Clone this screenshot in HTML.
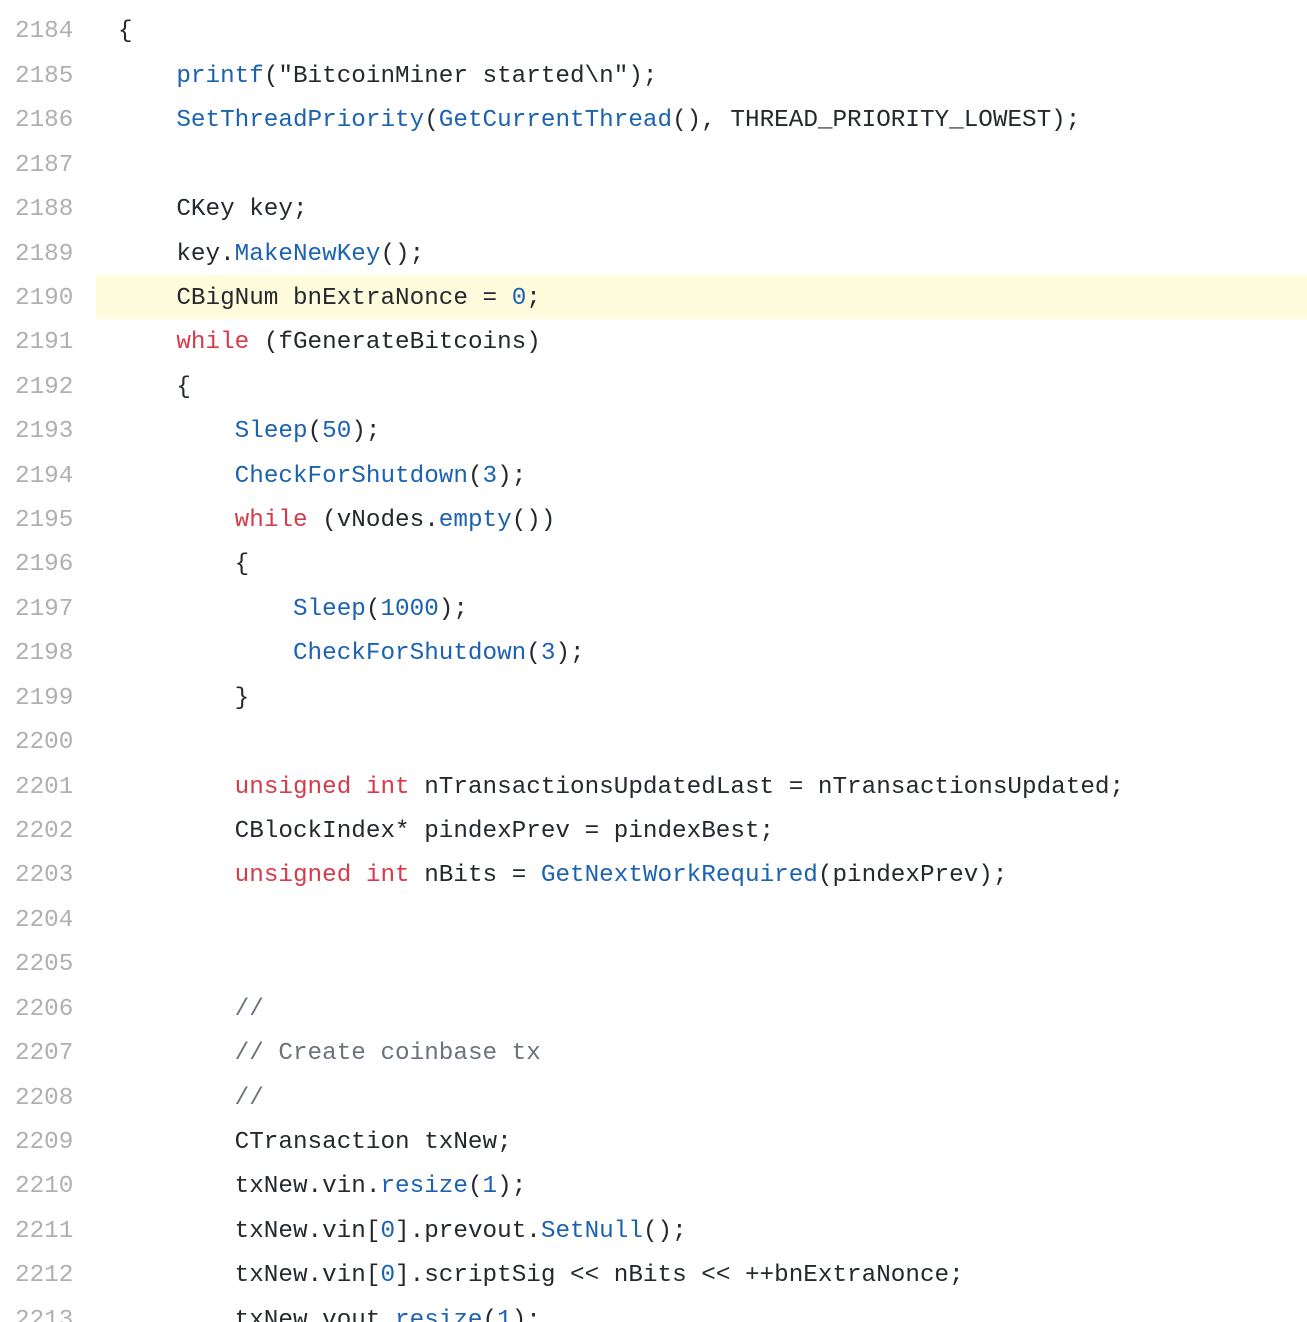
<!DOCTYPE html>
<html><head><meta charset="utf-8"><style>
html,body{margin:0;padding:0;background:#fff;width:1307px;height:1322px;overflow:hidden;position:relative}
.w{position:absolute;left:0;top:-34px;width:1307px}
.l{position:relative;height:44.43px;line-height:44.43px;font-family:"Liberation Mono",monospace;font-size:24.3px;white-space:pre;color:#24292e}
.n{position:absolute;left:15px;color:#b0b0b0}
.c{position:absolute;left:118px}
.h{position:absolute;left:96px;right:0;top:-2px;bottom:2px;background:#fffbdd}
.f{color:#1b62b0}.k{color:#d73a49}.g{color:#6a737d}
</style></head><body><div class="w">
<div class="l"><span class="n">2183</span><span class="c">void BitcoinMiner()</span></div>
<div class="l"><span class="n">2184</span><span class="c">{</span></div>
<div class="l"><span class="n">2185</span><span class="c">    <span class="f">printf</span>("BitcoinMiner started\n");</span></div>
<div class="l"><span class="n">2186</span><span class="c">    <span class="f">SetThreadPriority</span>(<span class="f">GetCurrentThread</span>(), THREAD_PRIORITY_LOWEST);</span></div>
<div class="l"><span class="n">2187</span></div>
<div class="l"><span class="n">2188</span><span class="c">    CKey key;</span></div>
<div class="l"><span class="n">2189</span><span class="c">    key.<span class="f">MakeNewKey</span>();</span></div>
<div class="l"><span class="h"></span><span class="n">2190</span><span class="c">    CBigNum bnExtraNonce = <span class="f">0</span>;</span></div>
<div class="l"><span class="n">2191</span><span class="c">    <span class="k">while</span> (fGenerateBitcoins)</span></div>
<div class="l"><span class="n">2192</span><span class="c">    {</span></div>
<div class="l"><span class="n">2193</span><span class="c">        <span class="f">Sleep</span>(<span class="f">50</span>);</span></div>
<div class="l"><span class="n">2194</span><span class="c">        <span class="f">CheckForShutdown</span>(<span class="f">3</span>);</span></div>
<div class="l"><span class="n">2195</span><span class="c">        <span class="k">while</span> (vNodes.<span class="f">empty</span>())</span></div>
<div class="l"><span class="n">2196</span><span class="c">        {</span></div>
<div class="l"><span class="n">2197</span><span class="c">            <span class="f">Sleep</span>(<span class="f">1000</span>);</span></div>
<div class="l"><span class="n">2198</span><span class="c">            <span class="f">CheckForShutdown</span>(<span class="f">3</span>);</span></div>
<div class="l"><span class="n">2199</span><span class="c">        }</span></div>
<div class="l"><span class="n">2200</span></div>
<div class="l"><span class="n">2201</span><span class="c">        <span class="k">unsigned int</span> nTransactionsUpdatedLast = nTransactionsUpdated;</span></div>
<div class="l"><span class="n">2202</span><span class="c">        CBlockIndex* pindexPrev = pindexBest;</span></div>
<div class="l"><span class="n">2203</span><span class="c">        <span class="k">unsigned int</span> nBits = <span class="f">GetNextWorkRequired</span>(pindexPrev);</span></div>
<div class="l"><span class="n">2204</span></div>
<div class="l"><span class="n">2205</span></div>
<div class="l"><span class="n">2206</span><span class="c">        <span class="g">//</span></span></div>
<div class="l"><span class="n">2207</span><span class="c">        <span class="g">// Create coinbase tx</span></span></div>
<div class="l"><span class="n">2208</span><span class="c">        <span class="g">//</span></span></div>
<div class="l"><span class="n">2209</span><span class="c">        CTransaction txNew;</span></div>
<div class="l"><span class="n">2210</span><span class="c">        txNew.vin.<span class="f">resize</span>(<span class="f">1</span>);</span></div>
<div class="l"><span class="n">2211</span><span class="c">        txNew.vin[<span class="f">0</span>].prevout.<span class="f">SetNull</span>();</span></div>
<div class="l"><span class="n">2212</span><span class="c">        txNew.vin[<span class="f">0</span>].scriptSig &lt;&lt; nBits &lt;&lt; ++bnExtraNonce;</span></div>
<div class="l"><span class="n">2213</span><span class="c">        txNew.vout.<span class="f">resize</span>(<span class="f">1</span>);</span></div>
</div></body></html>
